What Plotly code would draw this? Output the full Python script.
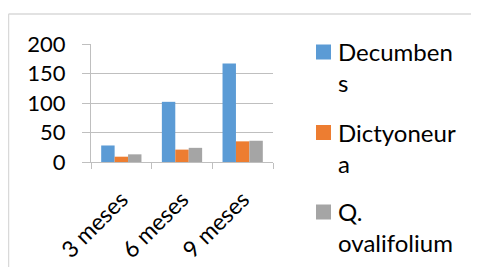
import plotly.graph_objects as go

categories = ["3 meses", "6 meses", "9 meses"]
series_names = ["Decumben<br>s", "Dictyoneur<br>a", "Q.<br>ovalifolium"]
decumbens = [28, 102, 167]
dictyoneura = [9, 21, 35]
ovalifolium = [13, 24, 36]
y_ticks = [0, 50, 100, 150, 200]

colors = ["#5b9bd5", "#ed7d31", "#a5a5a5"]
values = [decumbens, dictyoneura, ovalifolium]

FONT = "Lato"
OFF = 8  # page body margin
W, H = 479 - 2 * OFF, 275 - 2 * OFF
L, R, T, B = 91 - OFF, 273 - OFF, 44 - OFF, 162 - OFF


def px_x(p):
    return (p - OFF - L) / (R - L)


def px_y(p):
    return (B - (p - OFF)) / (B - T)


fig = go.Figure()
for name, vals, c in zip(series_names, values, colors):
    fig.add_trace(go.Bar(x=categories, y=vals, name=name, marker_color=c,
                         marker_line_width=0))

grid = "#bfbfbf"
border = "#d9d9d9"
shapes = [
    dict(type="line", xref="paper", yref="paper", x0=px_x(8.5), x1=px_x(500),
         y0=px_y(14), y1=px_y(14), line=dict(color=border, width=1.5), layer="below"),
    dict(type="line", xref="paper", yref="paper", x0=px_x(8.5), x1=px_x(8.5),
         y0=px_y(14), y1=px_y(300), line=dict(color=border, width=1.5), layer="below"),
]
annotations = []
legend_centers = [52, 132.5, 212]
for name, c, cy in zip(series_names, colors, legend_centers):
    shapes.append(dict(type="rect", xref="paper", yref="paper",
                       x0=px_x(316), x1=px_x(331), y0=px_y(cy + 7.5), y1=px_y(cy - 7.5),
                       line=dict(width=0), fillcolor=c))
    annotations.append(dict(xref="paper", yref="paper", x=px_x(336), y=px_y(cy - 17),
                            xanchor="left", yanchor="top", align="left", showarrow=False,
                            text=name, font=dict(size=24, family=FONT, color="black")))

fig.update_layout(
    width=W, height=H,
    margin=dict(l=L, r=W - R, t=T, b=H - B, pad=0),
    paper_bgcolor="white", plot_bgcolor="white",
    bargap=0.336, bargroupgap=0,
    font=dict(family=FONT, size=22, color="black"),
    showlegend=False,
    xaxis=dict(showgrid=False, ticks="outside", ticklen=6, tickcolor=grid,
               tickson="boundaries", showline=True, linecolor=grid, tickangle=-45,
               tickfont=dict(size=23), fixedrange=True, automargin=False,
               ticklabelstandoff=14),
    yaxis=dict(range=[0, 200], tickvals=y_ticks, showgrid=True, gridcolor=grid,
               ticks="outside", ticklen=8, tickcolor=grid, showline=True, linecolor=grid,
               zeroline=False, ticklabelstandoff=12, tickfont=dict(size=22),
               automargin=False, fixedrange=True),
    shapes=shapes,
    annotations=annotations,
)

fig.write_html("out.html")
